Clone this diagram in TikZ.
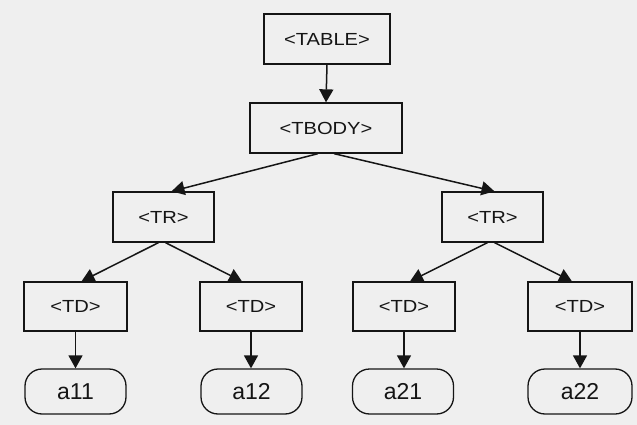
\documentclass[tikz,border=0pt]{standalone}
\usepackage{graphicx}
\usepackage{fontspec}
\newfontfamily\boxfont{Liberation Sans}
\usetikzlibrary{arrows.meta}
\definecolor{bg}{HTML}{EFEFEF}
\definecolor{ink}{HTML}{151515}
\newcommand{\wtext}[1]{\scalebox{1.15}[1]{#1}}
\begin{document}
\begin{tikzpicture}[x=1pt,y=-1pt,
  tagbox/.style={draw=ink,line width=1.3pt,rectangle,inner sep=0pt,
     font=\boxfont\fontsize{17.5}{19}\selectfont,text=ink},
  leaf/.style={draw=ink,line width=1.3pt,rectangle,rounded corners=17pt,inner sep=0pt,
     minimum width=101pt,minimum height=45pt,
     font=\boxfont\fontsize{23}{26}\selectfont,text=ink},
  link/.style={draw=ink,line width=1.5pt,-{Triangle[width=14pt,length=13pt]}}]
\fill[bg] (0,0) rectangle (637,425);
\useasboundingbox (0,0) rectangle (637,425);
\node[tagbox,minimum width=126pt,minimum height=50pt] (table) at (327,39) {\wtext{<TABLE>}};
\node[tagbox,minimum width=152pt,minimum height=50pt] (tbody) at (326,128) {\wtext{<TBODY>}};
\node[tagbox,minimum width=101pt,minimum height=50pt] (trl) at (163.5,217) {\wtext{<TR>}};
\node[tagbox,minimum width=101pt,minimum height=50pt] (trr) at (492.5,217) {\wtext{<TR>}};
\node[tagbox,minimum width=103pt,minimum height=49pt] (td1) at (75.5,306.5) {\wtext{<TD>}};
\node[tagbox,minimum width=102pt,minimum height=49pt] (td2) at (251,306.5) {\wtext{<TD>}};
\node[tagbox,minimum width=102pt,minimum height=49pt] (td3) at (404,306.5) {\wtext{<TD>}};
\node[tagbox,minimum width=104pt,minimum height=49pt] (td4) at (580,306.5) {\wtext{<TD>}};
\node[leaf] (a11) at (75.5,391.5) {a11};
\node[leaf] (a12) at (251.5,391.5) {a12};
\node[leaf] (a21) at (403,391.5) {a21};
\node[leaf,minimum width=104pt] (a22) at (580,391.5) {a22};
\draw[link] (table.south) -- (tbody.north);
\draw[link] ([xshift=-8pt]tbody.south) -- ([xshift=8pt]trl.north);
\draw[link] ([xshift=8pt]tbody.south) -- ([xshift=2pt]trr.north);
\draw[link] ([xshift=-5pt]trl.south) -- ([xshift=6pt]td1.north);
\draw[link] ([xshift=2pt]trl.south) -- ([xshift=-9pt]td2.north);
\draw[link] ([xshift=-5pt]trr.south) -- ([xshift=6pt]td3.north);
\draw[link] ([xshift=2pt]trr.south) -- ([xshift=-8pt]td4.north);
\draw[link] (td1.south) -- (td1.south |- a11.north);
\draw[link] (td2.south) -- (td2.south |- a12.north);
\draw[link] (td3.south) -- (td3.south |- a21.north);
\draw[link] (td4.south) -- (td4.south |- a22.north);
\end{tikzpicture}
\end{document}
